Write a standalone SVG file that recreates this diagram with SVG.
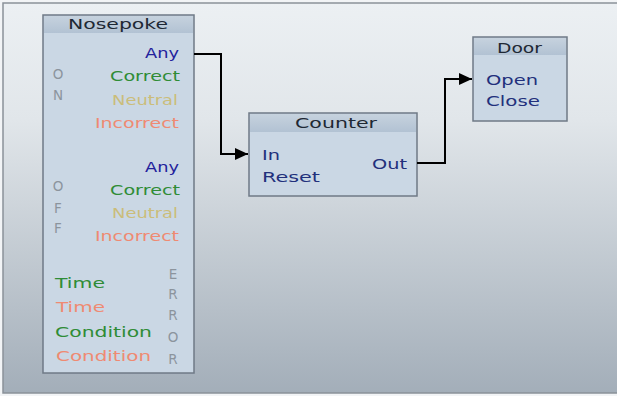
<svg xmlns="http://www.w3.org/2000/svg" width="617" height="396" viewBox="0 0 617 396">
<defs>
<linearGradient id="bg" x1="0" y1="0" x2="0" y2="1">
<stop offset="0" stop-color="#ecf0f3"/>
<stop offset="0.3" stop-color="#e1e6ea"/>
<stop offset="1" stop-color="#a3aeb9"/>
</linearGradient>
<linearGradient id="hdr" x1="0" y1="0" x2="0" y2="1">
<stop offset="0" stop-color="#c6d2de"/>
<stop offset="1" stop-color="#b2c2d3"/>
</linearGradient>
<marker id="arr" markerUnits="userSpaceOnUse" markerWidth="14" markerHeight="12" refX="13" refY="6" orient="auto">
<path d="M0,0 L13,6 L0,12 z" fill="#000"/>
</marker>
</defs>
<style>
text{font-family:"DejaVu Sans","Verdana",sans-serif;font-size:13.5px}
.body{fill:#cad7e4;stroke:#6f7a86;stroke-width:1.5}
.head{fill:url(#hdr)}
.title{fill:#1e2834}
.port{fill:#22307c}
.blue{fill:#22229c}
.green{fill:#2f8c36}
.neutral{fill:#cbbd7a}
.incor{fill:#ef8a72}
.gray{fill:#8c949d;font-size:13.5px}
.conn{fill:none;stroke:#000;stroke-width:2;marker-end:url(#arr)}
</style>
<rect x="0" y="0" width="617" height="396" fill="#f2f4f6"/>
<rect x="3" y="3" width="620" height="390" fill="url(#bg)" stroke="#8a9199" stroke-width="1.5"/>

<g id="nosepoke">
<rect class="body" x="43" y="15" width="151" height="358"/>
<rect class="head" x="44" y="16" width="149" height="17"/>
<text class="title" x="68" y="29" textLength="100" lengthAdjust="spacingAndGlyphs">Nosepoke</text>
<text class="blue" x="179" y="58" text-anchor="end" textLength="34" lengthAdjust="spacingAndGlyphs">Any</text>
<text class="green" x="180" y="81" text-anchor="end" textLength="70" lengthAdjust="spacingAndGlyphs">Correct</text>
<text class="neutral" x="178" y="105" text-anchor="end" textLength="66" lengthAdjust="spacingAndGlyphs">Neutral</text>
<text class="incor" x="179" y="128" text-anchor="end" textLength="84" lengthAdjust="spacingAndGlyphs">Incorrect</text>
<text class="gray" x="58" y="79" text-anchor="middle">O</text>
<text class="gray" x="58" y="100" text-anchor="middle">N</text>
<text class="blue" x="179" y="172" text-anchor="end" textLength="34" lengthAdjust="spacingAndGlyphs">Any</text>
<text class="green" x="180" y="195" text-anchor="end" textLength="70" lengthAdjust="spacingAndGlyphs">Correct</text>
<text class="neutral" x="178" y="218" text-anchor="end" textLength="66" lengthAdjust="spacingAndGlyphs">Neutral</text>
<text class="incor" x="179" y="241" text-anchor="end" textLength="84" lengthAdjust="spacingAndGlyphs">Incorrect</text>
<text class="gray" x="58" y="191" text-anchor="middle">O</text>
<text class="gray" x="58" y="213" text-anchor="middle">F</text>
<text class="gray" x="58" y="233" text-anchor="middle">F</text>
<text class="green" x="55" y="288" textLength="50" lengthAdjust="spacingAndGlyphs">Time</text>
<text class="incor" x="56" y="312" textLength="49" lengthAdjust="spacingAndGlyphs">Time</text>
<text class="green" x="55" y="337" textLength="97" lengthAdjust="spacingAndGlyphs">Condition</text>
<text class="incor" x="56" y="361" textLength="95" lengthAdjust="spacingAndGlyphs">Condition</text>
<text class="gray" x="173" y="279" text-anchor="middle">E</text>
<text class="gray" x="173" y="299" text-anchor="middle">R</text>
<text class="gray" x="173" y="320" text-anchor="middle">R</text>
<text class="gray" x="173" y="342" text-anchor="middle">O</text>
<text class="gray" x="173" y="364" text-anchor="middle">R</text>
</g>

<g id="counter">
<rect class="body" x="249" y="113" width="168" height="83"/>
<rect class="head" x="250" y="114" width="166" height="18"/>
<text class="title" x="295" y="128" textLength="82" lengthAdjust="spacingAndGlyphs">Counter</text>
<text class="port" x="262" y="160" textLength="18" lengthAdjust="spacingAndGlyphs">In</text>
<text class="port" x="262" y="182" textLength="58" lengthAdjust="spacingAndGlyphs">Reset</text>
<text class="port" x="407" y="169" text-anchor="end" textLength="35" lengthAdjust="spacingAndGlyphs">Out</text>
</g>

<g id="door">
<rect class="body" x="473" y="37" width="94" height="84"/>
<rect class="head" x="474" y="38" width="92" height="17"/>
<text class="title" x="497" y="53" textLength="45" lengthAdjust="spacingAndGlyphs">Door</text>
<text class="port" x="486" y="85" textLength="52" lengthAdjust="spacingAndGlyphs">Open</text>
<text class="port" x="486" y="106" textLength="54" lengthAdjust="spacingAndGlyphs">Close</text>
</g>

<g id="connectors">
<path class="conn" d="M194,54 H221 V154 H248"/>
<path class="conn" d="M417,163 H445 V79 H472"/>
</g>
</svg>
